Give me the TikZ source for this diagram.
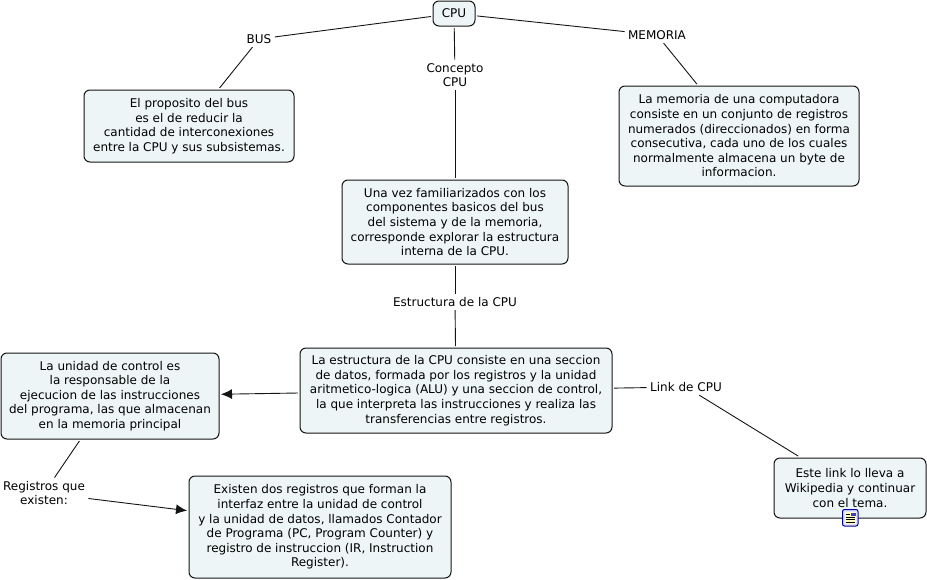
\documentclass[tikz,border=0pt]{standalone}
\usepackage{xcolor}
\usepackage{fontspec}
\setmainfont{DejaVu Sans}
\usepackage{tikz}
\usetikzlibrary{arrows.meta}
\definecolor{boxfill}{RGB}{238,245,246}
\definecolor{boxline}{RGB}{20,20,20}

\begin{document}
\begin{tikzpicture}[x=1pt,y=-1pt,font=\fontsize{12}{14.6}\selectfont,
  concept/.style={draw=boxline,fill=boxfill,line width=1pt,rounded corners=6pt,align=center,inner sep=0pt,outer sep=2pt},
  linklabel/.style={align=center,inner sep=1pt,outer sep=2.5pt},
  link/.style={line width=0.9pt,draw=boxline},
  linkarrow/.style={link,-{Latex[length=11pt,width=10pt]}}]
  \useasboundingbox (0,0) rectangle (927,579);
  \node[concept,minimum width=42pt,minimum height=25pt] (cpu) at (454,13.5) {CPU};
  \node[concept,minimum width=210pt,minimum height=72pt] (busbox) at (189,126) {El proposito del bus\\es el de reducir la\\cantidad de interconexiones\\entre la CPU y sus subsistemas.};
  \node[concept,minimum width=240pt,minimum height=100pt] (memoriabox) at (739,136) {La memoria de una computadora\\consiste en un conjunto de registros\\numerados (direccionados) en forma\\consecutiva, cada uno de los cuales\\normalmente almacena un byte de\\informacion.};
  \node[concept,minimum width=226pt,minimum height=84pt] (conceptobox) at (455,222) {Una vez familiarizados con los\\componentes basicos del bus\\del sistema y de la memoria,\\corresponde explorar la estructura\\interna de la CPU.};
  \node[concept,minimum width=312pt,minimum height=85pt] (estructurabox) at (456,390.5) {La estructura de la CPU consiste en una seccion\\de datos, formada por los registros y la unidad\\aritmetico-logica (ALU) y una seccion de control,\\la que interpreta las instrucciones y realiza las\\transferencias entre registros.};
  \node[concept,minimum width=218pt,minimum height=86pt] (controlbox) at (110,396) {La unidad de control es\\la responsable de la\\ejecucion de las instrucciones\\del programa, las que almacenan\\en la memoria principal};
  \node[concept,minimum width=262pt,minimum height=102pt] (registrosbox) at (320,527) {Existen dos registros que forman la\\interfaz entre la unidad de control\\y la unidad de datos, llamados Contador\\de Programa (PC, Program Counter) y\\registro de instruccion (IR, Instruction\\Register).};
  \node[concept,minimum width=152pt,minimum height=60pt] (wikibox) at (850,488) {Este link lo lleva a\\Wikipedia y continuar\\con el tema.};
  \node[linklabel] (bus) at (259,39) {BUS};
  \node[linklabel] (concepto) at (455,75) {Concepto\\CPU};
  \node[linklabel] (memoria) at (657,35) {MEMORIA};
  \node[linklabel] (estructura) at (455,302) {Estructura de la CPU};
  \node[linklabel] (linkcpu) at (686,387) {Link de CPU};
  \node[linklabel] (registros) at (44,493) {Registros que\\existen:};
  \draw[link] (cpu) -- (bus);
  \draw[link] (bus) -- (busbox);
  \draw[link] (cpu) -- (concepto);
  \draw[link] (concepto) -- (conceptobox);
  \draw[link] (cpu) -- (memoria);
  \draw[link] (memoria) -- (memoriabox);
  \draw[link] (conceptobox) -- (estructura);
  \draw[link] (estructura) -- (estructurabox);
  \draw[linkarrow] (estructurabox) -- (controlbox);
  \draw[link] (estructurabox) -- (linkcpu);
  \draw[link] (linkcpu) -- (wikibox);
  \draw[link] (controlbox) -- (registros);
  \draw[linkarrow] (registros) -- (registrosbox);
  \draw[blue!60!black,line width=1pt,fill=blue!12,rounded corners=2pt] (842.5,509.5) rectangle (858,526);
  \fill[yellow!25] (845,512) rectangle (856,524);
  \draw[black,line width=0.8pt] (846,514) -- (850,514) (846,517) -- (855,517) (846,519.5) -- (855,519.5) (846,522) -- (855,522);
  \fill[blue!50!gray] (851,512.5) rectangle (855.5,515.5);
\end{tikzpicture}
\end{document}
